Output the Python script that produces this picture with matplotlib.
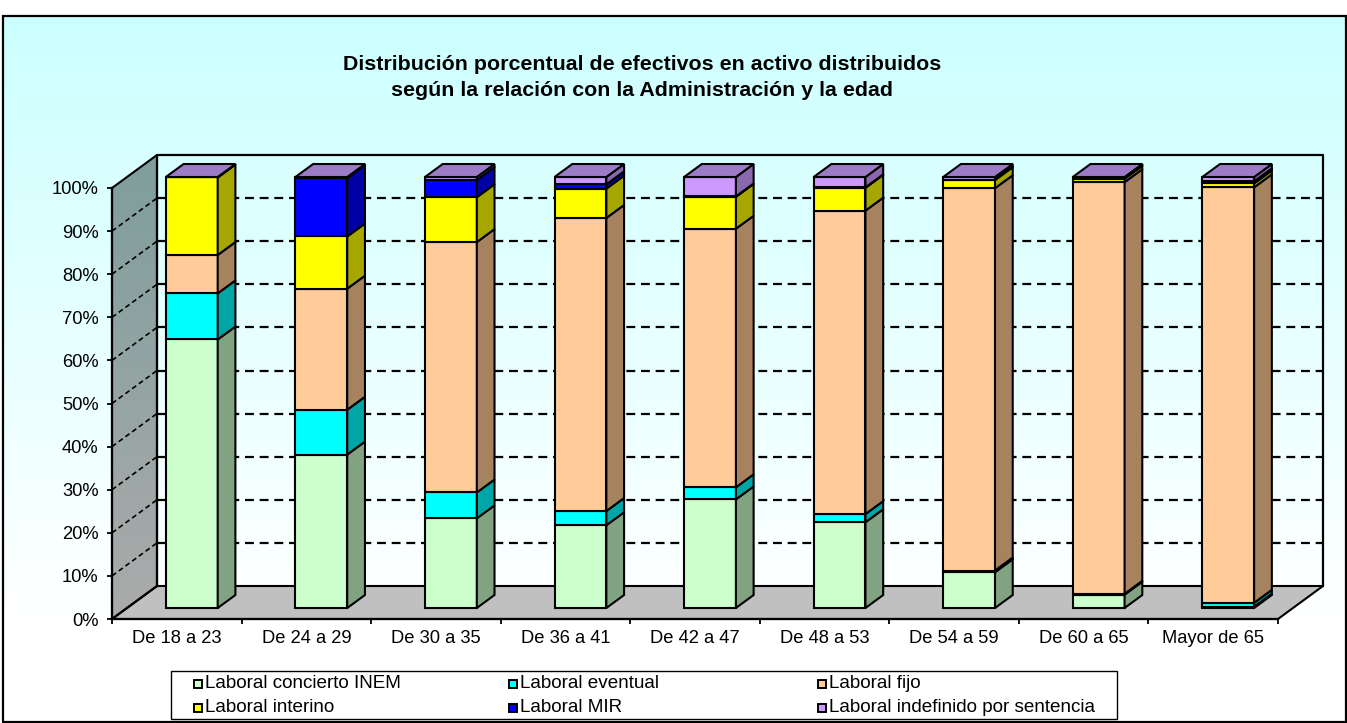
import numpy as np
import matplotlib
matplotlib.use("Agg")
import matplotlib.pyplot as plt
from matplotlib.patches import Polygon, Rectangle
from matplotlib.colors import to_rgb

plt.rcParams['font.family'] = ['Liberation Sans', 'DejaVu Sans']

# ---------------- data ----------------
categories = ["De 18 a 23", "De 24 a 29", "De 30 a 35", "De 36 a 41", "De 42 a 47",
              "De 48 a 53", "De 54 a 59", "De 60 a 65", "Mayor de 65"]
series_names = ["Laboral concierto INEM", "Laboral eventual", "Laboral fijo",
                "Laboral interino", "Laboral MIR", "Laboral indefinido por sentencia"]
concierto_inem = [62.3, 35.6, 20.8, 19.2, 25.2, 19.9, 8.3, 3.1, 0.3]
eventual = [10.7, 10.4, 6.0, 3.3, 2.8, 1.9, 0.4, 0.2, 0.9]
fijo = [8.9, 28.1, 58.1, 68.0, 60.0, 70.4, 88.7, 95.5, 96.4]
interino = [18.0, 12.1, 10.4, 6.8, 7.4, 5.3, 1.9, 0.8, 0.9]
mir = [0.0, 13.6, 4.0, 1.0, 0.1, 0.1, 0.1, 0.1, 0.5]
indefinido = [0.1, 0.2, 0.7, 1.7, 4.5, 2.4, 0.6, 0.3, 1.0]
y_ticks = [0, 10, 20, 30, 40, 50, 60, 70, 80, 90, 100]
y_tick_labels = ["0%", "10%", "20%", "30%", "40%", "50%", "60%", "70%", "80%", "90%", "100%"]
title_lines = ["Distribución porcentual de efectivos en activo distribuidos",
               "según la relación con la Administración y la edad"]

series = [concierto_inem, eventual, fijo, interino, mir, indefinido]
front_colors = ["#CCFFCC", "#00FFFF", "#FFCC99", "#FFFF00", "#0000FF", "#CC99FF"]
side_colors = ["#82A382", "#00A5A5", "#A6825F", "#A6A600", "#0000A5", "#8A68AE"]
top_color = "#9C7CC6"

# ---------------- figure ----------------
W, H = 1347, 723
fig = plt.figure(figsize=(W / 100, H / 100), dpi=100)
bg = fig.add_axes([0, 0, 1, 1])
bg.axis('off')

# chart area gradient background
n = 400
t = np.clip(np.linspace(0, 1, n) / 0.85, 0, 1)
c0 = np.array(to_rgb("#CCFFFF"))
c1 = np.array(to_rgb("#FFFFFF"))
grad = (c0[None, :] * (1 - t[:, None]) + c1[None, :] * t[:, None])[:, None, :]
bg.imshow(grad, extent=(3, 1346, 722, 16), aspect='auto', zorder=0, interpolation='bilinear')
bg.add_patch(Rectangle((3, 16), 1343, 706, fill=False, ec='black', lw=1.6, zorder=1))
bg.set_xlim(0, W)
bg.set_ylim(H, 0)

# title
bg.text(642, 64, title_lines[0], ha='center', va='center', fontsize=15.4, weight='bold', zorder=5)
bg.text(642, 90, title_lines[1], ha='center', va='center', fontsize=15.4, weight='bold', zorder=5)

# ---------------- main (front-plane) axes ----------------
X0, X1, Y0, Y1 = 112, 1278, 619, 188
ax = fig.add_axes([X0 / W, (H - Y0) / H, (X1 - X0) / W, (Y0 - Y1) / H])
ax.set_zorder(2)
ax.patch.set_visible(False)
ncat = len(categories)
ax.set_xlim(0, ncat)
ax.set_ylim(0, 1)
DX = 45 / ((X1 - X0) / ncat)   # full depth shift in x data units
DY = 33 / (Y0 - Y1)            # full depth shift in y data units

# left wall with gradient (gradient drawn on the full-figure axes, clipped to the wall)
wall_pts = np.array([(0, 0), (0, 1), (DX, 1 + DY), (DX, DY)])
ax.add_patch(Polygon(wall_pts, closed=True, fc='none', ec='black', lw=1.5,
                     zorder=1.2, clip_on=False))
wall_px = bg.transData.inverted().transform(ax.transData.transform(wall_pts))
wall_clip = Polygon(wall_px, closed=True, fc='none', ec='none', transform=bg.transData)
wt = np.linspace(0, 1, 200)
wc0 = np.array(to_rgb("#7E9E9C"))
wc1 = np.array(to_rgb("#ABABAB"))
wgrad = (wc0[None, :] * (1 - wt[:, None]) + wc1[None, :] * wt[:, None])[:, None, :]
ymin, ymax = wall_px[:, 1].min(), wall_px[:, 1].max()
xmin, xmax = wall_px[:, 0].min(), wall_px[:, 0].max()
im = bg.imshow(wgrad, extent=(xmin, xmax, ymax, ymin), aspect='auto', zorder=0.5,
               interpolation='bilinear')
im.set_clip_path(wall_clip)
bg.set_xlim(0, W)
bg.set_ylim(H, 0)

# floor
ax.add_patch(Polygon([(0, 0), (ncat, 0), (ncat + DX, DY), (DX, DY)], closed=True,
                     fc="#C0C0C0", ec='black', lw=1.5, zorder=1, clip_on=False))
# back wall outline
ax.plot([DX, DX, ncat + DX, ncat + DX], [DY, 1 + DY, 1 + DY, DY], color='black',
        lw=1.6, zorder=1.3, clip_on=False)
# gridlines (back wall + left wall)
for v in y_ticks[1:-1]:
    f = v / 100
    ax.plot([DX, ncat + DX], [f + DY, f + DY], color='black', lw=1.6,
            ls=(0, (4, 2.6)), zorder=1.4, clip_on=False)
    ax.plot([0, DX], [f, f + DY], color='black', lw=1.2,
            ls=(0, (3, 2)), zorder=1.4, clip_on=False)

# bars
d0, d1 = 1 / 3, 0.727
bw = 0.40
vals = np.array(series, dtype=float)
vals = vals / vals.sum(axis=0, keepdims=True)
cum = np.vstack([np.zeros(ncat), np.cumsum(vals, axis=0)])
xc = np.arange(ncat) + 0.5
for j in range(len(series)):
    b = cum[j]
    h = vals[j]
    ax.bar(xc + d0 * DX, h, bottom=b + d0 * DY, width=bw, color=front_colors[j],
           edgecolor='black', linewidth=1.5, zorder=3, clip_on=False)
    for i in range(ncat):
        xr = xc[i] + bw / 2
        top = b[i] + h[i]
        ax.add_patch(Polygon([(xr + d0 * DX, b[i] + d0 * DY), (xr + d1 * DX, b[i] + d1 * DY),
                              (xr + d1 * DX, top + d1 * DY), (xr + d0 * DX, top + d0 * DY)],
                             closed=True, fc=side_colors[j], ec='black', lw=1.5,
                             zorder=3.1, clip_on=False, joinstyle='miter'))
for i in range(ncat):
    xl, xr = xc[i] - bw / 2, xc[i] + bw / 2
    top = cum[-1][i]
    ax.add_patch(Polygon([(xl + d0 * DX, top + d0 * DY), (xr + d0 * DX, top + d0 * DY),
                          (xr + d1 * DX, top + d1 * DY), (xl + d1 * DX, top + d1 * DY)],
                         closed=True, fc=top_color, ec='black', lw=1.5,
                         zorder=3.2, clip_on=False))

ax.set_xlim(0, ncat)
ax.set_ylim(0, 1)
for s in ['top', 'right']:
    ax.spines[s].set_visible(False)
for s in ['left', 'bottom']:
    ax.spines[s].set_linewidth(1.6)
    ax.spines[s].set_zorder(2.5)
ax.set_yticks(np.array(y_ticks) / 100)
ax.set_yticklabels(y_tick_labels)
ax.tick_params(axis='y', direction='out', length=3.6, width=1.3, pad=6, labelsize=13.2)
ax.set_xticks(np.arange(ncat + 1))
ax.set_xticklabels([])
ax.set_xticks(xc, minor=True)
ax.set_xticklabels(categories, minor=True)
ax.tick_params(axis='x', which='major', direction='out', length=3.6, width=1.3)
ax.tick_params(axis='x', which='minor', length=0, pad=8, labelsize=13.2)

# ---------------- legend ----------------
bg.add_patch(Rectangle((171, 671), 946, 48, fc='white', ec='black', lw=1.0, zorder=5))
col_x = [194, 509, 818]
row_y = [684, 708]
for k in range(len(series_names)):
    r, c = divmod(k, 3)
    x, y = col_x[c], row_y[r]
    bg.add_patch(Rectangle((x, y - 4), 8, 8, fc=front_colors[k], ec='black', lw=1.4, zorder=6))
    bg.text(x + 11, y, series_names[k], ha='left', va='center', fontsize=13.6, zorder=6)

fig.savefig("out.png", dpi=100)
